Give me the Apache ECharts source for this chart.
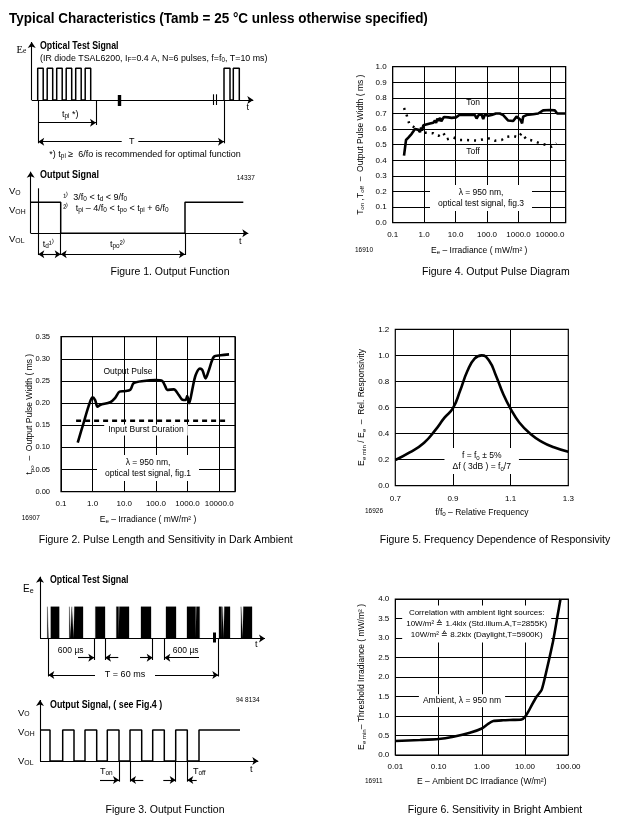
<!DOCTYPE html>
<html><head><meta charset="utf-8">
<script src="https://cdn.jsdelivr.net/npm/echarts@6.0.0/dist/echarts.min.js"></script>
<style>html,body{margin:0;padding:0;background:#fff}#c{width:622px;height:837px}</style>
</head><body><div id="c"></div>
<script>
// ================= DATA =================
// Figure 4 - Output pulse diagram (x: irradiance mW/m2, y: ms)
const fig4TonX = [0.229,0.265,0.314,0.401,0.512,0.578,0.669,0.738,0.80,0.853,0.942,1.04,1.53,1.95,2.2,2.4,2.62,2.89,3.2,3.5,4.26,4.93,5.85,7.47,10.3,13.1,17.5,28.5,41.1,46.4,53.7,66.8,75.5,85.3,109,139,191,255,326,470,677,865,976,1150,1300,1406,1795,2923,4209,6068,9886,14230,17000,31000];
const fig4TonY = [0.43,0.53,0.545,0.57,0.60,0.61,0.595,0.58,0.61,0.59,0.625,0.632,0.636,0.641,0.655,0.64,0.668,0.652,0.672,0.65,0.678,0.668,0.675,0.672,0.675,0.69,0.69,0.69,0.69,0.668,0.69,0.694,0.665,0.694,0.686,0.69,0.70,0.70,0.69,0.655,0.652,0.68,0.69,0.66,0.637,0.68,0.69,0.695,0.70,0.72,0.722,0.72,0.70,0.70];
const fig4ToffX = [0.229,0.278,0.338,0.453,0.578,0.834,1.2,1.95,2.82,4.06,5.18,8.43,13.7,22.4,46.4,75.5,123,177,289,416,677,976,1245,1795,2923,4753,7740,11170,16070];
const fig4ToffY = [0.735,0.69,0.632,0.615,0.60,0.577,0.577,0.573,0.556,0.577,0.534,0.547,0.53,0.53,0.526,0.534,0.541,0.526,0.53,0.551,0.556,0.547,0.573,0.534,0.526,0.509,0.498,0.487,0.509];
// Figure 2 - Pulse length in dark ambient
const fig2X = [0.338,0.512,0.738,0.99,1.2,1.42,1.73,3.6,5.18,7.11,10,15.5,19.8,41.1,96.4,157,200,226,368,531,677,865,976,1129,1406,1795,2464,2923,3726,4753,6855,11170,20500];
const fig2Y = [0.111,0.154,0.192,0.213,0.207,0.192,0.196,0.202,0.212,0.226,0.227,0.230,0.245,0.250,0.252,0.250,0.237,0.230,0.231,0.218,0.208,0.207,0.216,0.200,0.230,0.263,0.278,0.275,0.256,0.275,0.305,0.308,0.31];
const fig2BurstX = [0.3, 20000];
const fig2BurstY = [0.16, 0.16];
// Figure 5 - Frequency dependence of responsivity
const fig5Freq = [0.70,0.75,0.80,0.84,0.87,0.90,0.925,0.95,0.975,1.0,1.025,1.05,1.075,1.10,1.13,1.17,1.21,1.25,1.30];
const fig5Resp = [0.197,0.255,0.33,0.43,0.52,0.595,0.73,0.88,0.975,1.0,0.96,0.84,0.70,0.59,0.485,0.395,0.335,0.295,0.26];
const fig5GridX = [0.9, 1.1];
// Figure 6 - Sensitivity in bright ambient
const fig6Ambient = [0.01,0.037,0.1,0.22,0.53,1.0,1.4,1.85,3.1,5.3,8.3,10,11.9,14.3,18.6,24.2,31.6,45,56,66];
const fig6Threshold = [0.36,0.385,0.41,0.47,0.57,0.68,0.8,0.87,0.89,0.9,0.91,0.98,1.11,1.28,1.5,1.67,2.18,2.95,3.55,4.0];
// Figure 1 - timing diagram (diagram time units)
const fig1Burst1 = [[6,11.5],[15.5,21],[25,30.5],[34.5,40],[44,49.5],[53.5,59]];
const fig1Burst2 = [[192.3,198.3],[201.6,207.6]];
const fig1PulseLevel = 31.7;
const fig1OutEdges = [30, 154.3];
const fig1OutLevel = 31;
const fig1OutEnd = 212.6;
// Figure 3 - timing diagram
const fig3Bursts = [[7.4,8.4],[10.8,19.2],[29.4,30.4],[31.8,33.6],[34.4,43],[55.4,65],[76.4,78.6],[79.4,89],[101,111],[126,136],[147,155.6],[156.4,159.6],[179,181.6],[182.4,183.6],[184.4,190],[201,202.6],[203.4,212]];
const fig3PulseLevel = 31.8;
const fig3OutEdges = [10,22.7,34,45,56.7,67.3,79,90,101.7,112.7,124.3,135.7,147.3,159];
const fig3OutLevel = 31;
const fig3OutEnd = 200;

// ================= HELPERS =================
const SANS = "'Liberation Sans', Arial, Helvetica, sans-serif";
const NARROW = "'Liberation Sans Narrow', 'Arial Narrow', 'Liberation Sans', sans-serif";
const SERIF = "'Liberation Serif', 'Times New Roman', serif";
const zip = (a, b) => a.map((v, i) => [v, b[i]]);
function pulseTrain(pulses, level) {
  const d = [];
  pulses.forEach(([a, b]) => { d.push([a, 0], [a, level], [b, level], [b, 0]); });
  return d;
}
function outWave(edges, level, end) {
  let v = level; const d = [[0, v]];
  edges.forEach(e => { d.push([e, v]); v = v ? 0 : level; d.push([e, v]); });
  d.push([end, v]);
  return d;
}
function seg(x1, y1, x2, y2, s1, s2, lw) {
  const a = {coord: [x1, y1], symbol: s1 || 'none'};
  const b = {coord: [x2, y2], symbol: s2 || 'none'};
  if (lw) a.lineStyle = {width: lw};
  return [a, b];
}
function marks(data) {
  return {silent: true, animation: false, symbol: ['none', 'none'], symbolSize: 6,
    label: {show: false}, emphasis: {disabled: true},
    lineStyle: {color: '#000', width: 1.1, type: 'solid'}, data};
}
function txt(x, y, text, o) {
  o = o || {};
  const fs = o.fs || 9, ff = o.ff || SANS, fw = o.bold ? 'bold' : 'normal';
  const style = {text, x: 0, y: 0, fill: '#000', fontSize: fs, fontFamily: ff, fontWeight: fw,
    align: o.align || 'left', verticalAlign: 'middle',
    rich: {s: {fontFamily: ff, fontSize: fs * 0.72, fontWeight: fw, verticalAlign: 'bottom', lineHeight: 4, fill: '#000'}}};
  if (o.lh) style.lineHeight = o.lh;
  if (o.bg) { style.backgroundColor = '#fff'; style.padding = o.pad || [2, 4]; }
  return {type: 'text', x, y, z: 50, silent: true, scaleX: o.sx || 1, style};
}
const nameStyle = {color: '#000', fontSize: 8.5, fontFamily: SANS, lineHeight: 11,
  rich: {s: {color: '#000', fontSize: 6.2, fontFamily: SANS, verticalAlign: 'bottom', lineHeight: 4}}};
const gridLine = {show: true, lineStyle: {color: '#000', width: 1}};
function hiddenAxis(gi, min, max) { return {gridIndex: gi, type: 'value', min, max, show: false, splitLine: {show: false}}; }
function logX(gi, min, max, dec, name, gap, showMax) {
  return {gridIndex: gi, type: 'log', logBase: 10, min, max,
    axisLine: {show: false}, axisTick: {show: false}, splitLine: gridLine,
    axisLabel: {color: '#000', fontSize: 8, fontFamily: SANS, margin: 8, showMaxLabel: showMax,
      formatter: v => Number(v).toFixed(dec)},
    name, nameLocation: 'middle', nameGap: gap, nameMoveOverlap: false, nameTextStyle: nameStyle};
}
function valY(gi, min, max, interval, dec, name, gap, margin, fs) {
  return {gridIndex: gi, type: 'value', min, max, interval,
    axisLine: {show: false}, axisTick: {show: false}, splitLine: gridLine,
    axisLabel: {color: '#000', fontSize: fs || 8, fontFamily: SANS, margin: margin,
      formatter: v => Number(v).toFixed(dec)},
    name, nameLocation: 'middle', nameGap: gap, nameMoveOverlap: false, nameTextStyle: nameStyle};
}
const frame = {show: true, borderColor: '#000', borderWidth: 1.2, backgroundColor: 'transparent'};
const thick = {color: '#000', width: 2.6};

// ================= OPTION =================
const option = {
  animation: false,
  grid: [
    {left: 31.7, top: 40, width: 225, height: 110},                         // 0 fig1 top
    {left: 30.7, top: 163.3, width: 225, height: 100},                      // 1 fig1 bottom
    Object.assign({left: 392.7, top: 66.7, width: 173, height: 156}, frame),  // 2 fig4
    Object.assign({left: 61, top: 336.7, width: 174, height: 155}, frame),    // 3 fig2
    Object.assign({left: 395.3, top: 329.3, width: 173, height: 156.4}, frame),// 4 fig5
    {left: 40, top: 570, width: 230, height: 120},                          // 5 fig3 top
    {left: 40, top: 695, width: 230, height: 95},                           // 6 fig3 bottom
    Object.assign({left: 395.3, top: 599, width: 173, height: 156}, frame)    // 7 fig6
  ],
  xAxis: [
    hiddenAxis(0, 0, 225),
    hiddenAxis(1, 0, 225),
    logX(2, 0.1, 31623, 1, 'E{s|e} – Irradiance ( mW/m² )', 22, false),
    logX(3, 0.1, 31623, 1, 'E{s|e} – Irradiance ( mW/m² )', 22, false),
    {gridIndex: 4, type: 'value', min: 0.7, max: 1.3, interval: 0.1,
      axisLine: {show: false}, axisTick: {show: false}, splitLine: {show: false},
      axisLabel: {color: '#000', fontSize: 8, fontFamily: SANS, margin: 9,
        formatter: v => { const k = Math.round(v * 10); return k % 2 === 1 ? (k / 10).toFixed(1) : ''; }},
      name: 'f/f{s|0} – Relative Frequency', nameLocation: 'middle', nameGap: 21, nameMoveOverlap: false, nameTextStyle: nameStyle},
    hiddenAxis(5, 0, 230),
    hiddenAxis(6, 0, 230),
    logX(7, 0.01, 100, 2, 'E – Ambient DC Irradiance (W/m²)', 21, true)
  ],
  yAxis: [
    hiddenAxis(0, -50, 60),
    hiddenAxis(1, -30, 70),
    valY(2, 0, 1, 0.1, 1, 'T{s|on} ,T{s|off}  –  Output Pulse Width ( ms )', 27, 6),
    valY(3, 0, 0.35, 0.05, 2, 't{s|po}  –  Output Pulse Width ( ms )', 25.5, 11, 7.5),
    valY(4, 0, 1.2, 0.2, 1, 'E{s|e min} / E{s|e}  –  Rel. Responsivity', 28, 6),
    hiddenAxis(5, -51.5, 68.5),
    hiddenAxis(6, -29, 66),
    valY(7, 0, 4, 0.5, 1, 'E{s|e min}– Threshold Irradiance ( mW/m² )', 28, 6)
  ],
  series: [
    {type: 'line', xAxisIndex: 0, yAxisIndex: 0, symbol: 'none', silent: true,
      data: pulseTrain(fig1Burst1, fig1PulseLevel), lineStyle: {color: '#000', width: 1.5},
      markLine: marks([
        seg(0, 0, 0, 58, 'none', 'arrow'), seg(0, 0, 221.6, 0, 'none', 'arrow'),
        seg(87.3, -6, 87.3, 5, 'none', 'none', 3.4),
        seg(181.6, -5, 181.6, 5.7), seg(184.3, -5, 184.3, 5.7),
        seg(6.5, 0, 6.5, -43.3), seg(64.3, 0, 64.3, -25), seg(192.3, 0, 192.3, -43.3),
        seg(6.5, -22.7, 64.3, -22.7, 'none', 'arrow'),
        seg(90, -41.7, 6.5, -41.7, 'none', 'arrow'), seg(106.6, -41.7, 192.3, -41.7, 'none', 'arrow')
      ])},
    {type: 'line', xAxisIndex: 0, yAxisIndex: 0, symbol: 'none', silent: true,
      data: pulseTrain(fig1Burst2, fig1PulseLevel), lineStyle: {color: '#000', width: 1.5}},
    {type: 'line', xAxisIndex: 1, yAxisIndex: 1, symbol: 'none', silent: true,
      data: outWave(fig1OutEdges, fig1OutLevel, fig1OutEnd), lineStyle: {color: '#000', width: 1.5},
      markLine: marks([
        seg(0, 0, 0, 61.6, 'none', 'arrow'), seg(0, 0, 217.6, 0, 'none', 'arrow'),
        seg(7.6, 45, 7.6, -21.7),
        seg(30, 0, 30, -21.7), seg(154.3, 0, 154.3, -21.7),
        seg(7.6, -21, 30, -21, 'arrow', 'arrow'), seg(30, -21, 154.3, -21, 'arrow', 'arrow')
      ])},
    {type: 'line', xAxisIndex: 2, yAxisIndex: 2, symbol: 'none', silent: true,
      data: zip(fig4TonX, fig4TonY), lineStyle: thick},
    {type: 'line', xAxisIndex: 2, yAxisIndex: 2, symbol: 'none', silent: true,
      data: zip(fig4ToffX, fig4ToffY), lineStyle: {color: '#000', width: 2.5, type: [2, 5]}},
    {type: 'line', xAxisIndex: 3, yAxisIndex: 3, symbol: 'none', silent: true, smooth: 0.3,
      data: zip(fig2X, fig2Y), lineStyle: thick},
    {type: 'line', xAxisIndex: 3, yAxisIndex: 3, symbol: 'none', silent: true,
      data: zip(fig2BurstX, fig2BurstY), lineStyle: {color: '#000', width: 2.5, type: [5, 4]}},
    {type: 'line', xAxisIndex: 4, yAxisIndex: 4, symbol: 'none', silent: true, smooth: true,
      data: zip(fig5Freq, fig5Resp), lineStyle: thick,
      markLine: {silent: true, animation: false, symbol: ['none', 'none'], label: {show: false},
        emphasis: {disabled: true}, lineStyle: {color: '#000', width: 1, type: 'solid'},
        data: fig5GridX.map(v => ({xAxis: v}))}},
    {type: 'line', xAxisIndex: 5, yAxisIndex: 5, symbol: 'none', silent: true,
      data: pulseTrain(fig3Bursts, fig3PulseLevel), lineStyle: {color: '#000', width: 0.3},
      areaStyle: {color: '#000', opacity: 1},
      markLine: marks([
        seg(0, 0, 0, 61.8, 'none', 'arrow'), seg(0, 0, 225, 0, 'none', 'arrow'),
        seg(173.8, -4, 173.8, 6, 'none', 'none', 3),
        seg(8.3, 0, 8.3, -38), seg(54.3, 0, 54.3, -21.5), seg(65, 0, 65, -21.5),
        seg(112.7, 0, 112.7, -21.5), seg(124.3, 0, 124.3, -21.5), seg(178.3, 0, 178.3, -38),
        seg(38, -19.2, 54.3, -19.2, 'none', 'arrow'), seg(78.3, -19.2, 65, -19.2, 'none', 'arrow'),
        seg(100, -19.2, 112.7, -19.2, 'none', 'arrow'), seg(159, -19.2, 124.3, -19.2, 'none', 'arrow'),
        seg(55, -36.5, 8.3, -36.5, 'none', 'arrow'), seg(115, -36.5, 178.3, -36.5, 'none', 'arrow')
      ])},
    {type: 'line', xAxisIndex: 6, yAxisIndex: 6, symbol: 'none', silent: true,
      data: outWave(fig3OutEdges, fig3OutLevel, fig3OutEnd), lineStyle: {color: '#000', width: 1.5},
      markLine: marks([
        seg(0, 0, 0, 61, 'none', 'arrow'), seg(0, 0, 218.3, 0, 'none', 'arrow'),
        seg(79, 0, 79, -20.7), seg(90, 0, 90, -20.7), seg(135.7, 0, 135.7, -20.7), seg(147.3, 0, 147.3, -20.7),
        seg(60, -19, 79, -19, 'none', 'arrow'), seg(103.3, -19, 90, -19, 'none', 'arrow'),
        seg(123.3, -19, 135.7, -19, 'none', 'arrow'), seg(156.7, -19, 147.3, -19, 'none', 'arrow')
      ])},
    {type: 'line', xAxisIndex: 7, yAxisIndex: 7, symbol: 'none', silent: true, smooth: 0.2,
      data: zip(fig6Ambient, fig6Threshold), lineStyle: thick}
  ],
  graphic: [
    txt(9, 18.7, 'Typical Characteristics (Tamb = 25 °C unless otherwise specified)', {fs: 14, bold: true, sx: 0.963}),
    // Figure 1
    txt(16.5, 50, 'E{s|e}', {fs: 10.5, ff: SERIF}),
    txt(40, 46.7, 'Optical Test Signal', {fs: 10, bold: true, ff: NARROW, sx: 0.88}),
    txt(40, 58.3, '(IR diode TSAL6200, I{s|F}=0.4 A, N=6 pulses, f=f{s|0}, T=10 ms)', {fs: 9.5, ff: NARROW, sx: 0.93}),
    txt(246.5, 107.5, 't', {fs: 9}),
    txt(62, 115, 't{s|pi} *)', {fs: 9}),
    txt(131.7, 141.7, 'T', {fs: 9, align: 'center'}),
    txt(49.3, 155, '*) t{s|pi} ≥  6/fo is recommended for optimal function', {fs: 9, ff: NARROW}),
    txt(40, 175.7, 'Output Signal', {fs: 10, bold: true, ff: NARROW, sx: 0.9}),
    txt(236.7, 178.3, '14337', {fs: 6.5}),
    txt(9, 191.7, 'V{s|O}', {fs: 9.5}),
    txt(9, 210.7, 'V{s|OH}', {fs: 9.5}),
    txt(9, 239.3, 'V{s|OL}', {fs: 9.5}),
    txt(63.3, 197.3, '¹⁾  3/f{s|0} < t{s|d} < 9/f{s|0}', {fs: 9}),
    txt(63.3, 208.3, '²⁾   t{s|pi} – 4/f{s|0} < t{s|po} < t{s|pi} + 6/f{s|0}', {fs: 9}),
    txt(42.7, 245, 't{s|d}¹⁾', {fs: 9}),
    txt(110, 245, 't{s|po}²⁾', {fs: 9}),
    txt(239, 241.7, 't', {fs: 9}),
    txt(170, 271.7, 'Figure 1. Output Function', {fs: 10.5, align: 'center'}),
    // Figure 4
    txt(473, 103, 'Ton', {fs: 8.5, align: 'center'}),
    txt(473, 152, 'Toff', {fs: 8.5, align: 'center'}),
    txt(481, 198, 'λ = 950 nm,\noptical test signal, fig.3', {fs: 8.5, align: 'center', lh: 11, bg: true, pad: [2, 8]}),
    txt(355, 250, '16910', {fs: 6.5}),
    txt(495.8, 271.7, 'Figure 4. Output Pulse Diagram', {fs: 10.5, align: 'center'}),
    // Figure 2
    txt(128, 372, 'Output Pulse', {fs: 8.5, align: 'center'}),
    txt(146, 430, 'Input Burst Duration', {fs: 8.5, align: 'center', bg: true, pad: [1, 4]}),
    txt(148, 468, 'λ = 950 nm,\noptical test signal, fig.1', {fs: 8.5, align: 'center', lh: 11, bg: true, pad: [2, 8]}),
    txt(21.7, 518.3, '16907', {fs: 6.5}),
    txt(165.7, 540, 'Figure 2. Pulse Length and Sensitivity in Dark Ambient', {fs: 10.5, align: 'center'}),
    // Figure 5
    txt(481.7, 461, 'f = f{s|0} ± 5%\nΔf ( 3dB ) = f{s|0}/7', {fs: 8.5, align: 'center', lh: 11, bg: true, pad: [2, 8]}),
    txt(365, 511.7, '16926', {fs: 6.5}),
    txt(495, 540, 'Figure 5. Frequency Dependence of Responsivity', {fs: 10.5, align: 'center'}),
    // Figure 3
    txt(23, 589.3, 'E{s|e}', {fs: 10}),
    txt(50, 580.7, 'Optical Test Signal', {fs: 10, bold: true, ff: NARROW, sx: 0.88}),
    txt(255, 645, 't', {fs: 9}),
    txt(70.7, 650.7, '600 µs', {fs: 8.5, align: 'center'}),
    txt(185.7, 650.7, '600 µs', {fs: 8.5, align: 'center'}),
    txt(125, 675, 'T = 60 ms', {fs: 9, align: 'center'}),
    txt(50, 705, 'Output Signal, ( see Fig.4 )', {fs: 10, bold: true, ff: NARROW, sx: 0.89}),
    txt(236, 700, '94 8134', {fs: 6.5}),
    txt(18, 713, 'V{s|O}', {fs: 9.5}),
    txt(18, 732.7, 'V{s|OH}', {fs: 9.5}),
    txt(18, 761.7, 'V{s|OL}', {fs: 9.5}),
    txt(250, 770, 't', {fs: 9}),
    txt(100, 771.7, 'T{s|on}', {fs: 9}),
    txt(193, 771.7, 'T{s|off}', {fs: 9}),
    txt(165, 810, 'Figure 3. Output Function', {fs: 10.5, align: 'center'}),
    // Figure 6
    txt(476.7, 624, 'Correlation with ambient light sources:\n10W/m² ≙ 1.4klx (Std.illum.A,T=2855K)\n10W/m² ≙ 8.2klx (Daylight,T=5900K)', {fs: 8, align: 'center', lh: 11, bg: true, pad: [2, 4]}),
    txt(462, 700.7, 'Ambient, λ = 950 nm', {fs: 8.5, align: 'center', bg: true, pad: [2, 4]}),
    txt(365, 781, '16911', {fs: 6.5}),
    txt(495, 810, 'Figure 6. Sensitivity in Bright Ambient', {fs: 10.5, align: 'center'})
  ]
};
const chart = echarts.init(document.getElementById('c'), null, {renderer: 'canvas', width: 622, height: 837});
chart.setOption(option);
</script></body></html>
